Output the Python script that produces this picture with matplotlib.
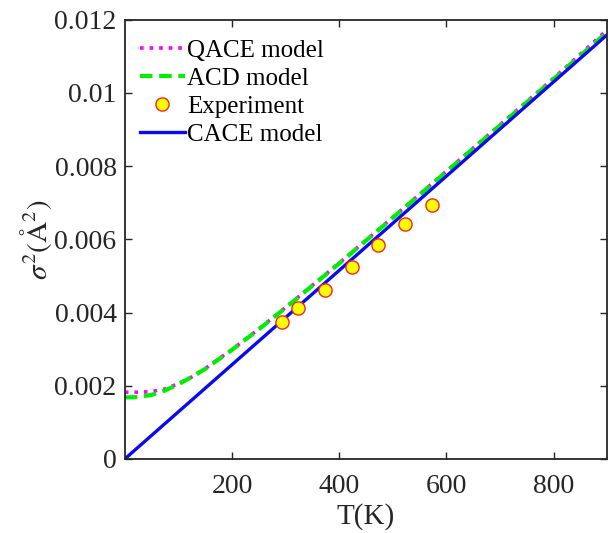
import matplotlib.pyplot as plt
import numpy as np

plt.rcParams['font.family'] = ['Liberation Serif', 'DejaVu Serif']
plt.rcParams['mathtext.fontset'] = 'stix'

# model curves
T_model = [0, 25, 50, 75, 100, 125, 150, 200, 250, 300, 400, 500, 600, 700, 800, 900]
qace = [0.00182, 0.00182, 0.00184, 0.00191, 0.00206, 0.00224, 0.00247, 0.00299,
        0.00355, 0.00414, 0.00535, 0.00660, 0.00786, 0.00913, 0.01040, 0.01172]
acd = [0.00168, 0.00169, 0.00175, 0.00187, 0.00204, 0.00224, 0.00246, 0.00298,
       0.00354, 0.00413, 0.00534, 0.00659, 0.00785, 0.00911, 0.01038, 0.01166]

T_cace = [0, 900]
cace = [0.0, 0.01159]

# experiment
T_exp = [293, 323, 373, 423, 473, 523, 573]
exp_val = [0.00373, 0.00413, 0.00462, 0.00524, 0.00584, 0.00643, 0.00694]

fig = plt.figure(figsize=(6.09, 5.33), dpi=100)
ax = fig.add_axes([0.205, 0.139, 0.792, 0.824])

l1, = ax.plot(T_model, qace, ':', color='#ff00ff', linewidth=2.6, label='QACE model')
l2, = ax.plot(T_model, acd, '--', color='#00ee00', linewidth=3.0, dashes=(3, 1.6), label='ACD model')
l4, = ax.plot(T_cace, cace, '-', color='#0a0aee', linewidth=2.4, label='CACE model')
l3, = ax.plot(T_exp, exp_val, 'o', markersize=9.5, markerfacecolor='#ffff00',
              markeredgecolor='#ff2020', markeredgewidth=1.0, label='Experiment')

ax.set_xlim(0, 900)
ax.set_ylim(0, 0.012)
ax.set_xticks([200, 400, 600, 800])
ax.set_yticks([0, 0.002, 0.004, 0.006, 0.008, 0.01, 0.012])
ax.set_yticklabels(['0', '0.002', '0.004', '0.006', '0.008', '0.01', '0.012'])
ax.tick_params(direction='in', length=5, width=1, labelsize=20, top=True, right=True,
               colors='#262626')
ax.tick_params(axis='x', pad=11)
ax.tick_params(axis='y', pad=6)
for s in ax.spines.values():
    s.set_linewidth(1.3)
    s.set_color('#262626')

ax.set_xlabel('T(K)', fontsize=21, labelpad=3, color='#262626')
ax.set_ylabel(r'$\sigma^2(\mathrm{\AA}^2)$', fontsize=21, labelpad=0, color='#262626')

ax.legend([l1, l2, l3, l4], ['QACE model', 'ACD model', 'Experiment', 'CACE model'],
          loc='upper left', frameon=False, fontsize=18, handlelength=1.8,
          handletextpad=0.1, labelspacing=0.22, borderaxespad=0.2,
          bbox_to_anchor=(0.0, 0.99))

fig.savefig('out.png', dpi=100)
